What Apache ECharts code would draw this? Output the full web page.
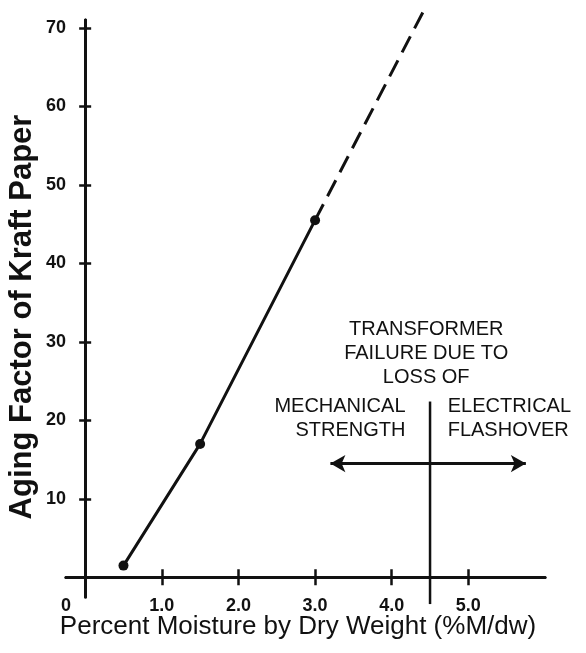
<!DOCTYPE html>
<html>
<head>
<meta charset="utf-8">
<script src="https://cdn.jsdelivr.net/npm/echarts@6/dist/echarts.min.js"></script>
<style>
  html, body { margin: 0; padding: 0; background: #fff; }
  #chart { width: 586px; height: 653px; }
</style>
</head>
<body>
<div id="chart"></div>
<script>
// measured points (moisture %, aging factor)
const moisture = [0.5, 1.5, 3.0]
const agingFactor = [1.5, 17, 45.5]
// extrapolated part
const dashX = [3.0, 4.45]
const dashY = [45.5, 72.8]

const xTicks = [1, 2, 3, 4, 5]
const yTicks = [10, 20, 30, 40, 50, 60, 70]

// failure region marks
const dividerX = 4.5
const dividerY = [22.4, -3.4]
const arrowY = 14.5
const arrowEnds = [3.2, 5.75]

const font = 'Liberation Sans, Arial, Helvetica, sans-serif'
const ink = '#111'

const chart = echarts.init(document.getElementById('chart'))

const xAxisBase = {
    type: 'value',
    min: -0.25,
    max: 6.0,
    position: 'bottom',
    splitLine: { show: false },
    axisLine: { onZero: true, lineStyle: { color: ink, width: 3 } }
}
const yAxisBase = {
    type: 'value',
    min: -2.5,
    max: 71,
    position: 'left',
    splitLine: { show: false },
    axisLine: { onZero: true, lineStyle: { color: ink, width: 3 } }
}

const option = {
    animation: false,
    grid: { left: 66, right: 41, top: 20, bottom: 56, outerBoundsMode: 'none' },
    graphic: [
        {
            type: 'text',
            x: 298,
            y: 627,
            silent: true,
            style: {
                text: 'Percent Moisture by Dry Weight (%M/dw)',
                font: '26px ' + font,
                fill: ink,
                align: 'center',
                verticalAlign: 'middle'
            }
        },
        {
            type: 'text',
            x: 22,
            y: 317,
            rotation: Math.PI / 2,
            silent: true,
            style: {
                text: 'Aging Factor of Kraft Paper',
                font: 'bold 31px ' + font,
                fill: ink,
                align: 'center',
                verticalAlign: 'middle'
            }
        }
    ],
    xAxis: [
        Object.assign({}, xAxisBase, {
            axisTick: { customValues: xTicks, length: 8, lineStyle: { color: ink, width: 2.5 } },
            axisLabel: {
                customValues: [-0.25].concat(xTicks),
                margin: 0,
                fontFamily: font, fontSize: 18, fontWeight: 'bold', color: ink,
                formatter: v => v < 0 ? '0' : v.toFixed(1)
            }
        }),
        Object.assign({}, xAxisBase, {
            axisTick: { customValues: xTicks, inside: true, length: 8, lineStyle: { color: ink, width: 2.5 } },
            axisLabel: { show: false }
        })
    ],
    yAxis: [
        Object.assign({}, yAxisBase, {
            axisTick: { customValues: yTicks, length: 6, lineStyle: { color: ink, width: 2.5 } },
            axisLabel: {
                customValues: yTicks,
                margin: 0,
                fontFamily: font, fontSize: 18, fontWeight: 'bold', color: ink
            }
        }),
        Object.assign({}, yAxisBase, {
            axisTick: { customValues: yTicks, inside: true, length: 6, lineStyle: { color: ink, width: 2.5 } },
            axisLabel: { show: false }
        })
    ],
    series: [
        {
            type: 'line',
            data: moisture.map((x, i) => [x, agingFactor[i]]),
            clip: false,
            symbol: 'circle',
            symbolSize: 10,
            itemStyle: { color: ink },
            lineStyle: { color: ink, width: 3 },
            silent: true,
            markLine: {
                silent: true,
                symbol: ['none', 'arrow'],
                symbolSize: [13, 15],
                label: { show: false },
                lineStyle: { color: ink, width: 3, type: 'solid' },
                data: [
                    [{ coord: [dividerX, arrowY] }, { coord: [arrowEnds[0], arrowY] }],
                    [{ coord: [dividerX, arrowY] }, { coord: [arrowEnds[1], arrowY] }]
                ]
            },
            markPoint: {
                silent: true,
                symbol: 'circle',
                symbolSize: 0,
                label: {
                    show: true,
                    position: 'inside',
                    fontFamily: font,
                    fontSize: 20,
                    lineHeight: 24,
                    color: ink
                },
                data: [
                    {
                        coord: [4.45, 28.5],
                        label: { formatter: 'TRANSFORMER\nFAILURE DUE TO\nLOSS OF', align: 'center' }
                    },
                    {
                        coord: [4.18, 20.2],
                        label: { formatter: 'MECHANICAL\nSTRENGTH', align: 'right' }
                    },
                    {
                        coord: [4.73, 20.2],
                        label: { formatter: 'ELECTRICAL\nFLASHOVER', align: 'left' }
                    }
                ]
            }
        },
        {
            type: 'line',
            data: dashX.map((x, i) => [x, dashY[i]]),
            clip: false,
            symbol: 'none',
            silent: true,
            lineStyle: { color: ink, width: 3, type: [18, 9] }
        },
        {
            // vertical divider between the two failure modes
            type: 'line',
            data: dividerY.map(y => [dividerX, y]),
            clip: false,
            symbol: 'none',
            silent: true,
            lineStyle: { color: ink, width: 2.5 }
        }
    ]
}
chart.setOption(option)

window.addEventListener('resize', () => {
    chart && chart.resize()
})
</script>
</body>
</html>
